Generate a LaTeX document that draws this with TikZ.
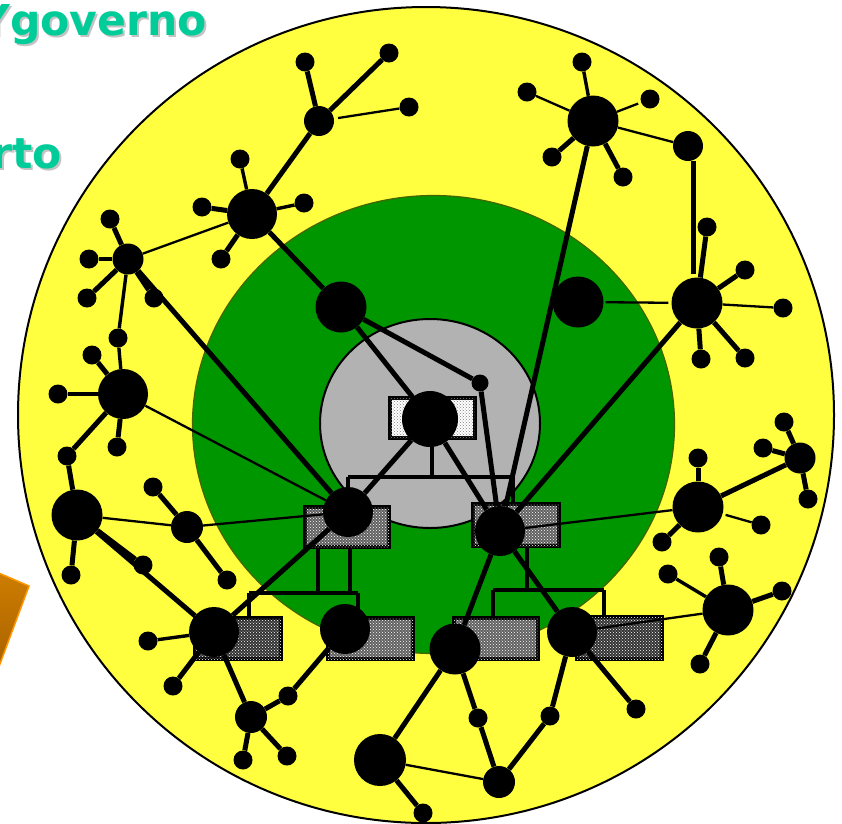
\documentclass[tikz,border=0pt]{standalone}
\usepackage{fontspec}
\newfontfamily\djv{DejaVu Sans}
\usetikzlibrary{patterns,calc}
\definecolor{ylw}{RGB}{255,255,64}
\definecolor{grn}{RGB}{0,150,0}
\definecolor{grnedge}{RGB}{70,100,0}
\definecolor{gry}{RGB}{178,178,178}
\definecolor{tealtxt}{RGB}{0,204,153}
\definecolor{shd}{RGB}{195,195,195}
\definecolor{orgtop}{RGB}{205,125,0}
\definecolor{orgbot}{RGB}{165,95,0}
\definecolor{orgline}{RGB}{255,150,0}
\newcommand{\shadowtext}[1]{\rlap{\raisebox{-2pt}{\kern2pt\textcolor{shd}{#1}}}\textcolor{tealtxt}{#1}}
\tikzset{
  hub/.style={circle, fill=black, draw=none, inner sep=0pt, minimum size=#1},
  leaf/.style={hub=19},
  thk/.style={line width=5pt},
  mid/.style={line width=3.4pt},
  thn/.style={line width=2.3pt},
  vbr/.style={line width=4.2pt},
  hbr/.style={line width=3.4pt},
  boxg/.style={draw=black, line width=4pt, inner sep=0pt, fill=black!62,
     postaction={pattern=crosshatch dots, pattern color=white}},
  boxd/.style={draw=black, line width=4pt, inner sep=0pt, fill=black!80,
     postaction={pattern=crosshatch dots, pattern color=white}},
  boxl/.style={draw=black, line width=4pt, inner sep=0pt, fill=white,
     postaction={pattern=crosshatch dots, pattern color=gray}},
  bigtxt/.style={anchor=base east, inner sep=0pt,
     font=\djv\bfseries\fontsize{42.5}{48}\selectfont}
}
\begin{document}
\begin{tikzpicture}[x=1pt,y=-1pt]
\clip (0,0) rectangle (842,823);
\fill[white] (0,0) rectangle (842,823);
% rings
\draw[fill=ylw, line width=2pt] (426,415) ellipse [x radius=408pt, y radius=408pt];
\draw[fill=grn, draw=grnedge, line width=1.2pt] (433.5,424.5) ellipse [x radius=241pt, y radius=229pt];
\draw[fill=gry, line width=2pt] (430,423.5) ellipse [x radius=110pt, y radius=104.5pt];
% orange shape at left edge
\draw[top color=orgtop, bottom color=orgbot, draw=orgline, line width=1.5pt]
  (-6,571) -- (29,586) -- (-6,680) -- cycle;
% texts
\node[bigtxt] (tgov) at (207,35) {\shadowtext{Ygoverno}};
\node[bigtxt] (trto) at (62,168) {\shadowtext{rto}};
% boxes
\node[boxl, minimum width=85pt, minimum height=40pt] (ctrbox) at (432.5,418) {};
\node[boxg, minimum width=84pt, minimum height=40pt] (LMbox) at (347,527) {};
\node[boxg, minimum width=86pt, minimum height=42pt] (RMbox) at (516,525) {};
\node[boxd, minimum width=86pt, minimum height=41pt] (BL1box) at (238,638.5) {};
\node[boxg, minimum width=85pt, minimum height=41pt] (BL2box) at (370.5,638.5) {};
\node[boxg, minimum width=84pt, minimum height=41pt] (BR1box) at (496,638.5) {};
\node[boxd, minimum width=85pt, minimum height=42pt] (BR2box) at (619.5,638) {};
% bracket junctions
\coordinate (c0) at (432,447);
\coordinate (c1) at (432,477);
\coordinate (c2) at (348,477);
\coordinate (c3) at (513,477);
\coordinate (c4) at (348,506);
\coordinate (c5) at (513,503);
\coordinate (l1) at (318,549);
\coordinate (l2) at (350,549);
\coordinate (l3) at (318,593);
\coordinate (l4) at (350,593);
\coordinate (l5) at (249,593);
\coordinate (l6) at (358,593);
\coordinate (l7) at (249,617);
\coordinate (l8) at (358,617);
\coordinate (r1) at (527,548);
\coordinate (r2) at (527,590);
\coordinate (r3) at (493,590);
\coordinate (r4) at (604,590);
\coordinate (r5) at (493,617);
\coordinate (r6) at (604,616);
\draw[vbr] (c0) -- (c1);
\draw[hbr] (c2) -- (c3);
\draw[vbr] (c2) -- (c4);
\draw[vbr] (c3) -- (c5);
\draw[vbr] (l1) -- (l3);
\draw[vbr] (l2) -- (l4);
\draw[hbr] (l5) -- (l6);
\draw[vbr] (l5) -- (l7);
\draw[vbr] (l6) -- (l8);
\draw[vbr] (r1) -- (r2);
\draw[hbr] (r3) -- (r4);
\draw[vbr] (r3) -- (r5);
\draw[vbr] (r4) -- (r6);
% hubs
\node[hub=30] (A) at (319,121) {};
\node[hub=50] (B) at (252,214) {};
\node[hub=51] (C) at (341,307) {};
\node[hub=31] (D) at (128,259) {};
\node[hub=50] (E) at (123,394) {};
\node[hub=51] (F) at (77,515) {};
\node[hub=32] (G) at (187,527) {};
\node[hub=32] (H) at (251,717) {};
\node[hub=52] (I) at (380,760) {};
\node[hub=32] (J) at (499,782) {};
\node[hub=51] (K) at (728,610) {};
\node[hub=51] (L) at (698,507) {};
\node[hub=31] (M) at (800,458) {};
\node[hub=51] (N) at (593,121) {};
\node[hub=30] (O) at (688,146) {};
\node[hub=51] (P) at (697,303) {};
\node[hub=51] (Q) at (578,302) {};
\node[hub=17] (R) at (480,383) {};
\node[hub=56] (ctr) at (430,419) {};
\node[hub=50] (LM) at (348,512) {};
\node[hub=50] (RM) at (500,531) {};
\node[hub=50] (BL1c) at (214,632) {};
\node[hub=50] (BL2c) at (345,629) {};
\node[hub=51] (BR1c) at (455,649) {};
\node[hub=50] (BR2c) at (572,632) {};
% leaves
\node[leaf] (A1) at (305,62) {};
\node[leaf] (A2) at (389,53) {};
\node[leaf] (A3) at (409,107) {};
\node[leaf] (B1) at (240,159) {};
\node[leaf] (B2) at (202,207) {};
\node[leaf] (B3) at (304,203) {};
\node[leaf] (B4) at (221,259) {};
\node[leaf] (D1) at (110,219) {};
\node[leaf] (D2) at (89,259) {};
\node[leaf] (D3) at (87,298) {};
\node[leaf] (D4) at (154,298) {};
\node[leaf] (D5) at (118,338) {};
\node[leaf] (E1) at (92,355) {};
\node[leaf] (E2) at (58,394) {};
\node[leaf] (E3) at (117,447) {};
\node[leaf] (E4) at (67,456) {};
\node[leaf] (F1) at (71,575) {};
\node[leaf] (F2) at (143,565) {};
\node[leaf] (G1) at (153,487) {};
\node[leaf] (G2) at (227,580) {};
\node[leaf] (S1) at (148,641) {};
\node[leaf] (S2) at (173,686) {};
\node[leaf] (H1) at (243,760) {};
\node[leaf] (H2) at (287,756) {};
\node[leaf] (H3) at (288,696) {};
\node[leaf] (I1) at (423,813) {};
\node[leaf] (J1) at (478,718) {};
\node[leaf] (J2) at (550,716) {};
\node[leaf] (T1) at (636,709) {};
\node[leaf] (K1) at (719,557) {};
\node[leaf] (K2) at (668,574) {};
\node[leaf] (K3) at (782,591) {};
\node[leaf] (K4) at (700,664) {};
\node[leaf] (L1) at (698,458) {};
\node[leaf] (L2) at (662,542) {};
\node[leaf] (L3) at (761,525) {};
\node[leaf] (M1) at (784,422) {};
\node[leaf] (M2) at (763,448) {};
\node[leaf] (M3) at (808,499) {};
\node[leaf] (N1) at (582,62) {};
\node[leaf] (N2) at (527,92) {};
\node[leaf] (N3) at (650,99) {};
\node[leaf] (N4) at (552,157) {};
\node[leaf] (N5) at (623,177) {};
\node[leaf] (P1) at (707,227) {};
\node[leaf] (P2) at (745,270) {};
\node[leaf] (P3) at (783,308) {};
\node[leaf] (P4) at (745,358) {};
\node[leaf] (P5) at (701,359) {};
% connectors: upper left
\draw[thk] (A) -- (A1);
\draw[thk] (A) -- (A2);
\draw[thn, shorten <=4pt] (A) -- (A3);
\draw[thk] (A) -- (B);
\draw[mid] (B) -- (B1);
\draw[thk] (B) -- (B2);
\draw[mid] (B) -- (B3);
\draw[thk] (B) -- (B4);
\draw[thk] (B) -- (C);
\draw[thn] (D) -- (B);
\draw[thk] (D) -- (D1);
\draw[mid] (D) -- (D2);
\draw[thk] (D) -- (D3);
\draw[thk] (D) -- (D4);
\draw[mid] (D) -- (D5);
\draw[thk] (D) -- (LM);
\draw[mid] (D5) -- (E);
\draw[thk] (E) -- (E1);
\draw[mid] (E) -- (E2);
\draw[thk] (E) -- (E3);
\draw[thk] (E) -- (E4);
\draw[thn] (E) -- (LM);
\draw[thk] (E4) -- (F);
\draw[thk] (F) -- (F1);
\draw[thk] (F) -- (F2);
\draw[thk] (F) -- (BL1c);
\draw[thn] (F) -- (G);
\draw[thk] (G) -- (G1);
\draw[thk] (G) -- (G2);
\draw[thn] (G) -- (LM);
% lower left
\draw[mid] (BL1c) -- (S1);
\draw[thk] (BL1c) -- (S2);
\draw[thk] (BL1c) -- (LM);
\draw[thk] (BL1c) -- (H);
\draw[thk] (H) -- (H1);
\draw[thk] (H) -- (H2);
\draw[thk] (H) -- (H3);
\draw[thk] (H3) -- (BL2c);
% bottom
\draw[thk] (I) -- (BR1c);
\draw[thk] (I) -- (I1);
\draw[thn] (I) -- (J);
\draw[thk] (J) -- (J1);
\draw[thk] (J1) -- (BR1c);
\draw[thk] (J) -- (J2);
\draw[thk] (J2) -- (BR2c);
\draw[thk] (BR2c) -- (T1);
\draw[thk] (BR2c) -- (RM);
\draw[thn] (BR2c) -- (K);
\draw[thk] (RM) -- (BR1c);
% right
\draw[thk] (K) -- (K1);
\draw[mid] (K) -- (K2);
\draw[thk] (K) -- (K3);
\draw[thk] (K) -- (K4);
\draw[thn] (L) -- (RM);
\draw[thk] (L) -- (L1);
\draw[thk] (L) -- (L2);
\draw[thn, shorten <=3pt] (L) -- (L3);
\draw[thk] (L) -- (M);
\draw[thk] (M) -- (M1);
\draw[thk] (M) -- (M2);
\draw[thk] (M) -- (M3);
% upper right
\draw[mid] (N) -- (N1);
\draw[thn] (N) -- (N2);
\draw[thn, shorten >=3pt] (N) -- (N3);
\draw[thk] (N) -- (N4);
\draw[thk] (N) -- (N5);
\draw[thn] (N) -- (O);
\draw[thk] (N) -- (RM);
\draw[thk] ($(O.south)+(5,0)$) -- ($(P.north)+(-4,-3)$);
\draw[thk] (P) -- (P1);
\draw[thk] (P) -- (P2);
\draw[thn] (P) -- (P3);
\draw[thk] (P) -- (P4);
\draw[thk] (P) -- (P5);
\draw[thk] (P) -- (RM);
\draw[thn, shorten <=2pt, shorten >=3pt] (Q) -- (P);
% centre
\draw[thk] (C) -- (ctr);
\draw[thk] (C) -- (R);
\draw[thk] (R) -- (RM);
\draw[thk] (ctr) -- (LM);
\draw[thk] (ctr) -- (RM);
\end{tikzpicture}
\end{document}
